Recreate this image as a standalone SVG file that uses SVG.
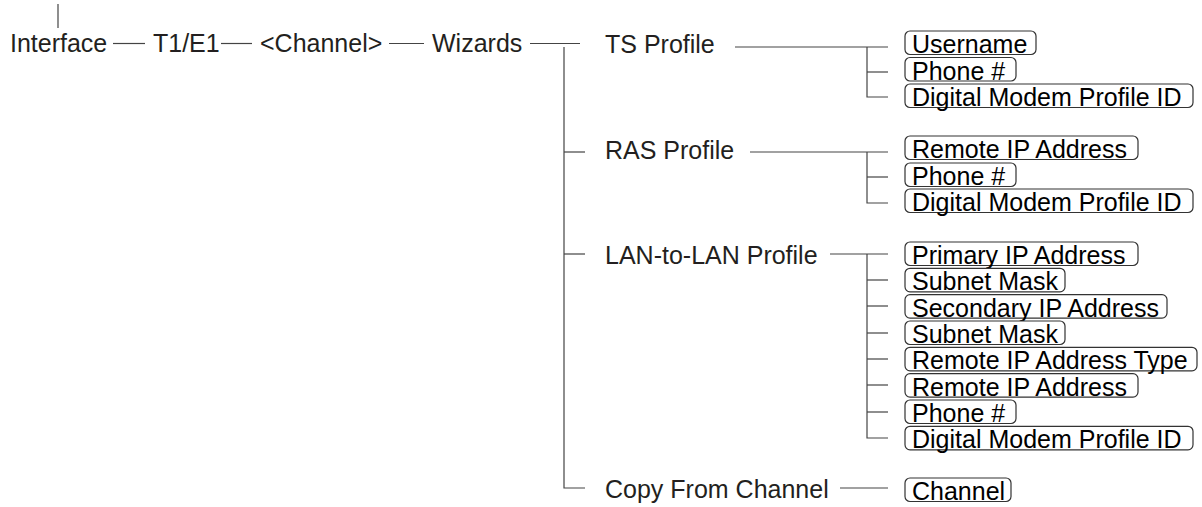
<svg xmlns="http://www.w3.org/2000/svg" width="1202" height="507" viewBox="0 0 1202 507">
<style>
.lbl{font-family:"Liberation Sans",Arial,sans-serif;font-size:25px;fill:#231f20}
.bt{font-family:"Liberation Sans",Arial,sans-serif;font-size:25px;fill:#000}
.box{fill:#fff;stroke:#333;stroke-width:1.2}
.ln{stroke:#444;stroke-width:1.2;fill:none}
</style>
<rect width="1202" height="507" fill="#fff"/>
<g id="connectors">
<line class="ln" x1="58" y1="4" x2="58" y2="28"/>
<line class="ln" x1="113" y1="43.5" x2="145" y2="43.5"/>
<line class="ln" x1="221" y1="43.5" x2="252" y2="43.5"/>
<line class="ln" x1="389" y1="43.5" x2="424" y2="43.5"/>
<line class="ln" x1="530" y1="43.5" x2="580" y2="43.5"/>
<polyline class="ln" points="564,47 564,488 585,488"/>
<line class="ln" x1="564" y1="152" x2="585" y2="152"/>
<line class="ln" x1="564" y1="254" x2="585" y2="254"/>
<line class="ln" x1="735" y1="47" x2="888" y2="47"/>
<polyline class="ln" points="867,47 867,97 888,97"/>
<line class="ln" x1="867" y1="72" x2="888" y2="72"/>
<line class="ln" x1="750" y1="152" x2="888" y2="152"/>
<polyline class="ln" points="867,152 867,203 888,203"/>
<line class="ln" x1="867" y1="177" x2="888" y2="177"/>
<line class="ln" x1="830" y1="254" x2="888" y2="254"/>
<polyline class="ln" points="867,254 867,438 888,438"/>
<line class="ln" x1="867" y1="280" x2="888" y2="280"/>
<line class="ln" x1="867" y1="306" x2="888" y2="306"/>
<line class="ln" x1="867" y1="333" x2="888" y2="333"/>
<line class="ln" x1="867" y1="359" x2="888" y2="359"/>
<line class="ln" x1="867" y1="385" x2="888" y2="385"/>
<line class="ln" x1="867" y1="412" x2="888" y2="412"/>
<line class="ln" x1="840" y1="488" x2="888" y2="488"/>
</g>
<g id="interface"><text class="lbl" x="10" y="52">Interface</text></g>
<g id="t1e1"><text class="lbl" x="153" y="52">T1/E1</text></g>
<g id="channel"><text class="lbl" x="260" y="52">&lt;Channel&gt;</text></g>
<g id="wizards"><text class="lbl" x="432" y="52">Wizards</text></g>
<g id="ts-profile"><text class="lbl" x="605" y="53">TS Profile</text></g>
<g id="ras-profile"><text class="lbl" x="605" y="159">RAS Profile</text></g>
<g id="lan-profile"><text class="lbl" x="605" y="264">LAN-to-LAN Profile</text></g>
<g id="copy-from-channel"><text class="lbl" x="605" y="498">Copy From Channel</text></g>
<g id="ts-username"><rect class="box" x="905" y="31" width="131" height="23.5" rx="5"/><text class="bt" x="912" y="53">Username</text></g>
<g id="ts-phone"><rect class="box" x="905" y="57.5" width="111" height="23.5" rx="5"/><text class="bt" x="912" y="79.5">Phone #</text></g>
<g id="ts-dmp"><rect class="box" x="905" y="84" width="288" height="23.5" rx="5"/><text class="bt" x="912" y="106">Digital Modem Profile ID</text></g>
<g id="ras-remote"><rect class="box" x="905" y="136" width="233" height="23.5" rx="5"/><text class="bt" x="912" y="158">Remote IP Address</text></g>
<g id="ras-phone"><rect class="box" x="905" y="163" width="111" height="23.5" rx="5"/><text class="bt" x="912" y="185">Phone #</text></g>
<g id="ras-dmp"><rect class="box" x="905" y="189" width="288" height="23.5" rx="5"/><text class="bt" x="912" y="211">Digital Modem Profile ID</text></g>
<g id="lan-primary"><rect class="box" x="905" y="242" width="233" height="23.5" rx="5"/><text class="bt" x="912" y="264">Primary IP Address</text></g>
<g id="lan-subnet1"><rect class="box" x="905" y="268.3" width="160" height="23.5" rx="5"/><text class="bt" x="912" y="290.3">Subnet Mask</text></g>
<g id="lan-secondary"><rect class="box" x="905" y="294.6" width="262" height="23.5" rx="5"/><text class="bt" x="912" y="316.6">Secondary IP Address</text></g>
<g id="lan-subnet2"><rect class="box" x="905" y="321" width="160" height="23.5" rx="5"/><text class="bt" x="912" y="343">Subnet Mask</text></g>
<g id="lan-remote-type"><rect class="box" x="905" y="347.3" width="292" height="23.5" rx="5"/><text class="bt" x="912" y="369.3">Remote IP Address Type</text></g>
<g id="lan-remote"><rect class="box" x="905" y="373.6" width="233" height="23.5" rx="5"/><text class="bt" x="912" y="395.6">Remote IP Address</text></g>
<g id="lan-phone"><rect class="box" x="905" y="400" width="111" height="23.5" rx="5"/><text class="bt" x="912" y="422">Phone #</text></g>
<g id="lan-dmp"><rect class="box" x="905" y="426.3" width="288" height="23.5" rx="5"/><text class="bt" x="912" y="448.3">Digital Modem Profile ID</text></g>
<g id="copy-channel"><rect class="box" x="905" y="478" width="106" height="23.5" rx="5"/><text class="bt" x="912" y="500">Channel</text></g>
</svg>
